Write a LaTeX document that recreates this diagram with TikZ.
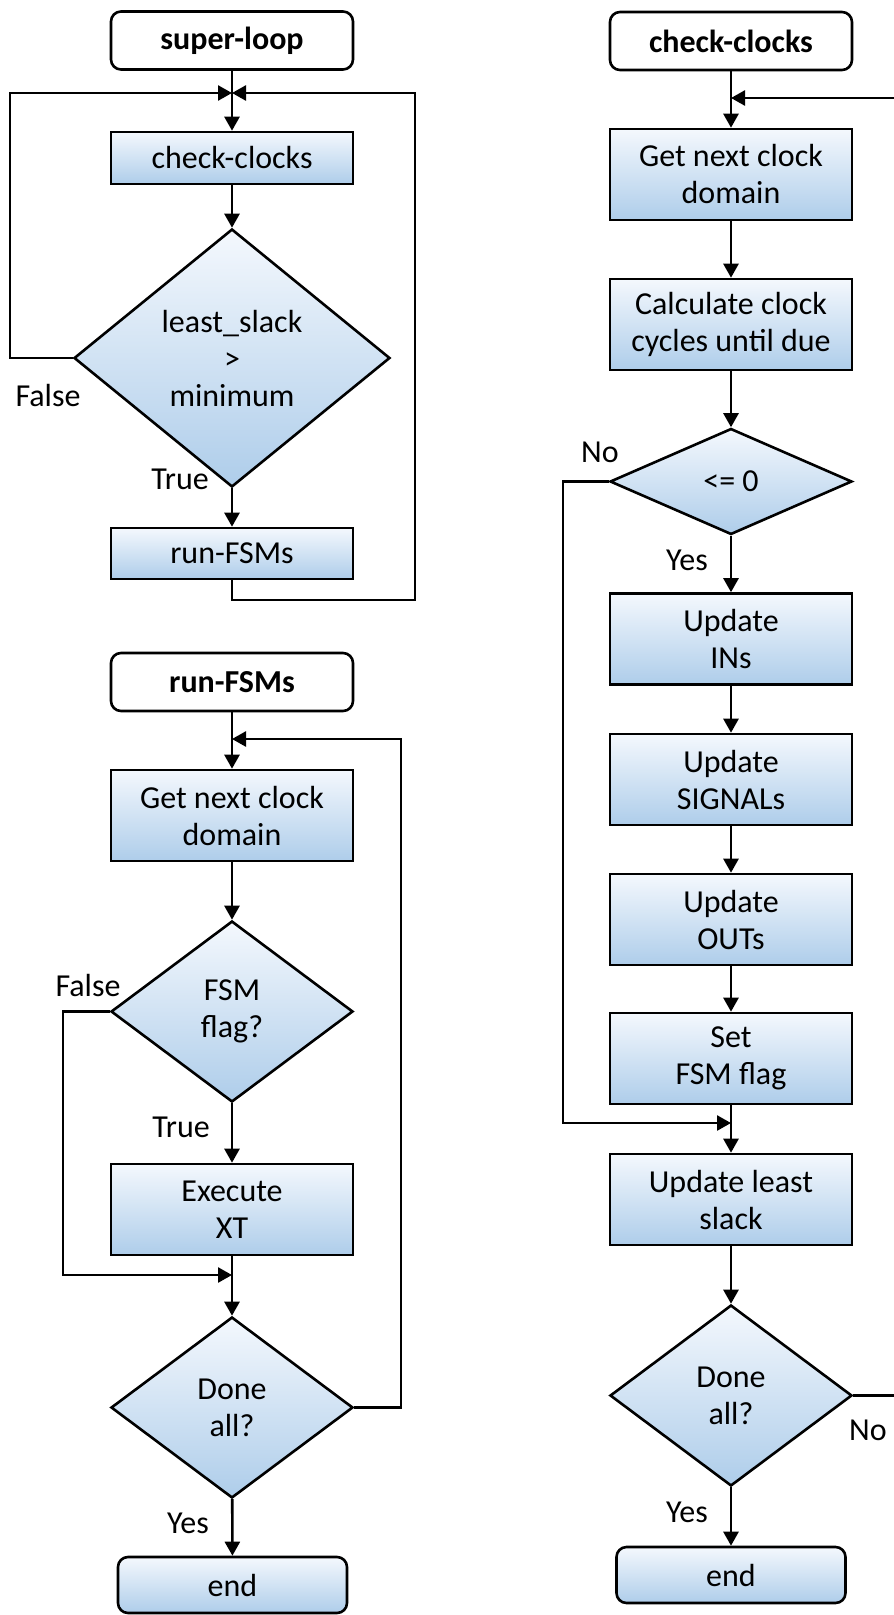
\documentclass[tikz,border=0pt]{standalone}
\usepackage{fontspec}
\setmainfont{Carlito}
\usetikzlibrary{arrows.meta,shapes.geometric}
\definecolor{gtop}{RGB}{244,248,253}
\definecolor{gbot}{RGB}{174,205,234}
\tikzset{
  base/.style={draw=black, line width=2.6pt, font=\fontsize{32}{37}\selectfont, align=center, inner sep=0pt},
  title/.style={base, rounded corners=10pt, fill=white, font=\fontsize{32}{37}\selectfont\bfseries, minimum width=242pt, minimum height=58pt},
  proc/.style={base, top color=gtop, bottom color=gbot, minimum width=242pt},
  dec/.style={base, shape=diamond, top color=gtop, bottom color=gbot},
  endbox/.style={base, rounded corners=10pt, top color=gtop, bottom color=gbot, minimum width=229pt, minimum height=56pt},
  lbl/.style={font=\fontsize{32}{37}\selectfont, inner sep=0pt},
  flow/.style={line width=2.6pt, -{Triangle[length=14pt,width=15pt]}},
  wire/.style={line width=2.6pt},
}
\begin{document}
\begin{tikzpicture}[x=1pt,y=-1pt]
\useasboundingbox (0,0) rectangle (894,1615);
% ---------- left top: super-loop ----------
\node[title] (sl) at (232,40.5) {super-loop};
\node[proc, minimum height=52pt] (cc1) at (232,158) {check-clocks};
\node[dec, minimum width=316pt, minimum height=258pt, aspect=1.22] (d1) at (232,358) {least\_slack\\>\\minimum};
\node[proc, minimum height=51pt] (rf1) at (232,553.5) {run-FSMs};
\coordinate (j1) at (232,93);
\coordinate (fl1) at (10,93);
\coordinate (rb1) at (415,600);
\draw[flow] (sl) -- (cc1);
\draw[flow] (cc1) -- (d1);
\draw[flow] (d1) -- (rf1);
\draw[flow] (d1.west) -| (fl1) -- (j1);
\draw[flow] (rf1.south) |- (rb1) |- (j1);
\node[lbl] (f1) at (48,395) {False};
\node[lbl] (t1) at (180,479) {True};
% ---------- left bottom: run-FSMs ----------
\node[title] (rf) at (232,682) {run-FSMs};
\node[proc, minimum height=91pt] (gn1) at (232,815.5) {Get next clock\\domain};
\node[dec, minimum width=242pt, minimum height=181pt, aspect=1.33] (d2) at (232,1011.5) {FSM\\flag?};
\node[proc, minimum height=91pt] (ex) at (232,1209.5) {Execute\\XT};
\node[dec, minimum width=242pt, minimum height=181pt, aspect=1.33] (d3) at (232,1407.5) {Done\\all?};
\node[endbox] (end1) at (232.5,1585) {end};
\coordinate (j2) at (232,739);
\coordinate (rt2) at (401,739);
\coordinate (j3) at (232,1275);
\coordinate (fl2) at (63,1275);
\draw[flow] (rf) -- (gn1);
\draw[flow] (gn1) -- (d2);
\draw[flow] (d2) -- (ex);
\draw[flow] (d2.west) -| (fl2) -- (j3);
\draw[flow] (ex) -- (d3);
\draw[flow] (d3.east) -| (rt2) -- (j2);
\draw[flow] (d3) -- (end1);
\node[lbl] (f2) at (88,985) {False};
\node[lbl] (t2) at (181,1127) {True};
\node[lbl] (y1) at (188,1523) {Yes};
% ---------- right: check-clocks ----------
\node[title] (cc) at (731,41) {check-clocks};
\node[proc, minimum height=91pt] (gn2) at (731,174.5) {Get next clock\\domain};
\node[proc, minimum height=91pt] (calc) at (731,324.5) {Calculate clock\\cycles until due};
\node[dec, minimum width=242pt, minimum height=106pt, aspect=2.27] (d4) at (731,481.5) {<= 0};
\node[proc, minimum height=91pt] (upin) at (731,639) {Update\\INs};
\node[proc, minimum height=91pt] (upsig) at (731,779.5) {Update\\SIGNALs};
\node[proc, minimum height=91pt] (upout) at (731,919.5) {Update\\OUTs};
\node[proc, minimum height=91pt] (setf) at (731,1058.5) {Set\\FSM flag};
\node[proc, minimum height=91pt] (upls) at (731,1199.5) {Update least\\slack};
\node[dec, minimum width=242pt, minimum height=181pt, aspect=1.33] (d5) at (731,1395.5) {Done\\all?};
\node[endbox] (end2) at (731,1575) {end};
\coordinate (ein) at (894,98);
\coordinate (j4) at (731,98);
\coordinate (nb) at (563,1123);
\coordinate (j5) at (731,1123);
\coordinate (eout) at (894,1395.5);
\draw[flow] (cc) -- (gn2);
\draw[flow] (ein) -- (j4);
\draw[flow] (gn2) -- (calc);
\draw[flow] (calc) -- (d4);
\draw[flow] (d4) -- (upin);
\draw[flow] (upin) -- (upsig);
\draw[flow] (upsig) -- (upout);
\draw[flow] (upout) -- (setf);
\draw[flow] (setf) -- (upls);
\draw[flow] (d4.west) -| (nb) -- (j5);
\draw[flow] (upls) -- (d5);
\draw[flow] (d5) -- (end2);
\draw[wire] (d5.east) -- (eout);
\node[lbl] (n1) at (600,452) {No};
\node[lbl] (y2) at (687,560) {Yes};
\node[lbl] (n2) at (868,1430) {No};
\node[lbl] (y3) at (687,1512) {Yes};
\end{tikzpicture}
\end{document}
